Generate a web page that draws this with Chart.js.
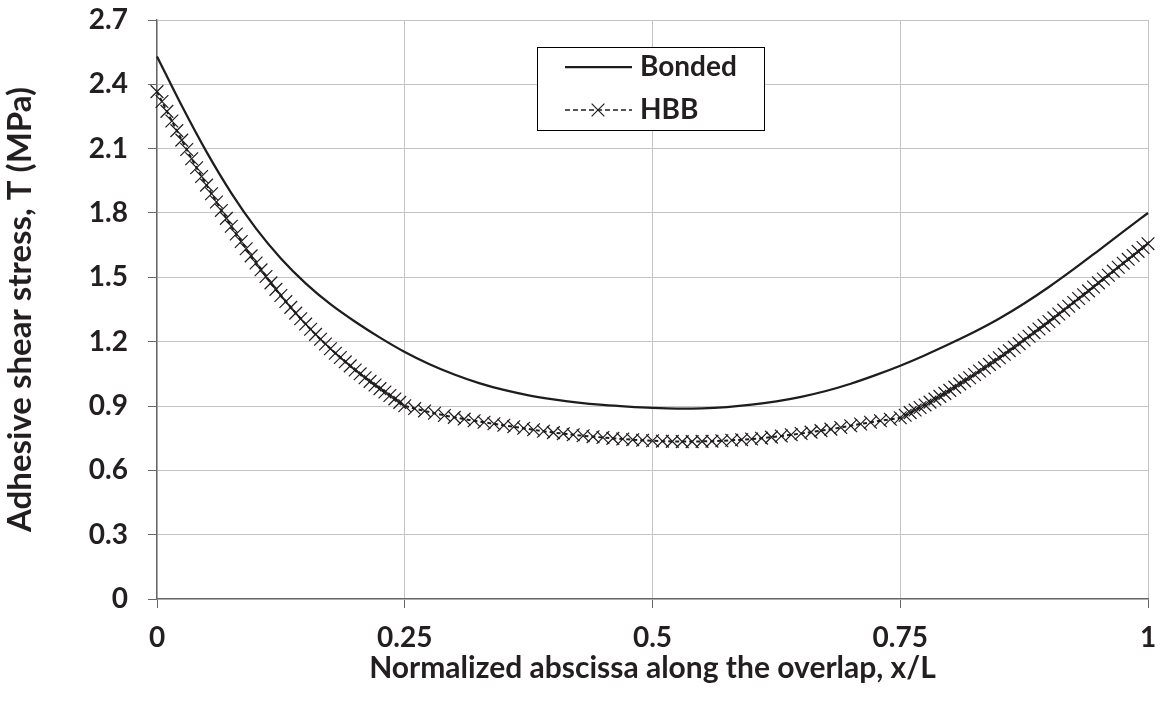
<!DOCTYPE html>
<html>
<head>
<meta charset="utf-8">
<script src="https://cdn.jsdelivr.net/npm/chart.js@4.4.1/dist/chart.umd.min.js"></script>
<style>
  html, body { margin: 0; padding: 0; background: #fff; }
  #wrap { width: 1163px; height: 702px; }
</style>
</head>
<body>
<div id="wrap"><canvas id="chart" width="1163" height="702"></canvas></div>
<script>
// Bonded joint: smooth curve, read every 0.025 of x/L
const bondedX = [0,0.025,0.05,0.075,0.1,0.125,0.15,0.175,0.2,0.225,0.25,0.275,0.3,0.325,0.35,0.375,0.4,0.425,0.45,0.475,
    0.5,0.525,0.55,0.575,0.6,0.625,0.65,0.675,0.7,0.725,0.75,0.775,0.8,0.825,0.85,0.875,0.9,0.925,0.95,0.975,1];
const bondedY = [2.530,2.300,2.085,1.893,1.727,1.588,1.472,1.375,1.293,1.219,1.152,1.095,1.047,1.007,0.975,0.950,0.931,0.916,0.905,0.897,
    0.891,0.888,0.889,0.895,0.906,0.922,0.943,0.970,1.004,1.044,1.088,1.137,1.190,1.246,1.308,1.378,1.455,1.538,1.625,1.713,1.800];

// HBB joint: marker points (finer mesh near the ends)
const hbbX = [
    0,0.005,0.01,0.015,0.02,0.025,0.03,0.035,0.04,0.045,0.05,0.055,0.06,0.065,0.07,0.075,0.08,0.085,0.09,0.095,
    0.1,0.105,0.11,0.115,0.12,0.125,0.13,0.135,0.14,0.145,0.15,0.155,0.16,0.165,0.17,0.175,0.18,0.185,0.19,0.195,
    0.2,0.205,0.21,0.215,0.22,0.225,0.23,0.235,0.24,0.245,0.25,
    0.26,0.27,0.28,0.29,0.3,0.31,0.32,0.33,0.34,0.35,0.36,0.37,0.38,0.39,0.4,0.41,0.42,0.43,0.44,0.45,0.46,0.47,0.48,0.49,
    0.5,0.51,0.52,0.53,0.54,0.55,0.56,0.57,0.58,0.59,0.6,0.61,0.62,0.63,0.64,0.65,0.66,0.67,0.68,0.69,0.7,0.71,0.72,0.73,0.74,
    0.75,0.755,0.76,0.765,0.77,0.775,0.78,0.785,0.79,0.795,0.8,0.805,0.81,0.815,0.82,0.825,0.83,0.835,0.84,0.845,
    0.85,0.855,0.86,0.865,0.87,0.875,0.88,0.885,0.89,0.895,0.9,0.905,0.91,0.915,0.92,0.925,0.93,0.935,0.94,0.945,
    0.95,0.955,0.96,0.965,0.97,0.975,0.98,0.985,0.99,0.995,1
];
const hbbY = [
    2.366,2.320,2.274,2.229,2.184,2.140,2.096,2.053,2.011,1.970,1.930,1.890,1.851,1.812,1.775,1.738,1.702,1.667,1.633,1.600,
    1.567,1.535,1.504,1.474,1.444,1.415,1.387,1.360,1.333,1.307,1.282,1.258,1.234,1.211,1.189,1.167,1.146,1.126,1.106,1.087,
    1.068,1.050,1.032,1.015,0.998,0.981,0.965,0.949,0.933,0.917,0.901,
    0.888,0.877,0.866,0.856,0.847,0.839,0.831,0.824,0.817,0.810,0.803,0.796,0.789,0.782,0.776,0.771,0.766,0.761,0.757,0.753,0.749,0.746,0.743,0.740,
    0.738,0.736,0.735,0.734,0.734,0.735,0.736,0.738,0.740,0.743,0.746,0.750,0.755,0.760,0.766,0.772,0.778,0.785,0.792,0.800,0.808,0.816,0.824,0.831,0.838,
    0.845,0.857,0.869,0.881,0.893,0.905,0.918,0.932,0.945,0.959,0.973,0.988,1.003,1.017,1.032,1.047,1.063,1.078,1.094,1.109,
    1.125,1.141,1.158,1.174,1.191,1.208,1.225,1.242,1.259,1.276,1.294,1.311,1.329,1.347,1.365,1.383,1.401,1.419,1.437,1.455,
    1.474,1.492,1.510,1.529,1.547,1.566,1.584,1.602,1.621,1.639,1.657
];

const seriesNames = ['Bonded', 'HBB'];
const xTitle = 'Normalized abscissa along the overlap, x/L';
const yTitle = 'Adhesive shear stress, T (MPa)';

const inkColor = '#1f1c1d';
const textColor = '#231f20';
const gridColor = '#c4c4c4';
const axisColor = '#666666';
const fontFamily = 'Lato, "Open Sans", sans-serif';
const tickFont = { family: fontFamily, size: 28, weight: 'bold' };
const xTitleFont = { family: fontFamily, size: 30, weight: 'bold' };
const yTitleFont = { family: fontFamily, size: 33, weight: 'bold' };

const toPoints = (xs, ys) => xs.map((x, i) => ({ x, y: ys[i] }));

// legend drawn inside the plot, boxed
const legendBox = {
    id: 'legendBox',
    afterDatasetsDraw(chart) {
        const { ctx, chartArea } = chart;
        const x0 = chartArea.left + 380, y0 = chartArea.top + 27, w = 227, h = 83;
        ctx.save();
        ctx.fillStyle = '#fff';
        ctx.fillRect(x0, y0, w, h);
        ctx.strokeStyle = '#000';
        ctx.lineWidth = 1;
        ctx.strokeRect(x0 + 0.5, y0 + 0.5, w, h);
        chart.data.datasets.forEach((ds, i) => {
            const y = y0 + 20 + i * 43;
            ctx.strokeStyle = ds.borderColor;
            ctx.lineWidth = i === 0 ? ds.borderWidth : 1.6;
            ctx.setLineDash(i === 0 ? [] : [5, 3]);
            ctx.beginPath();
            ctx.moveTo(x0 + 28, y);
            ctx.lineTo(x0 + 95, y);
            ctx.stroke();
            ctx.setLineDash([]);
            if (ds.pointRadius > 0) {
                const cx = x0 + 61, r = ds.pointRadius * Math.SQRT1_2;
                ctx.lineWidth = ds.pointBorderWidth;
                ctx.beginPath();
                ctx.moveTo(cx - r, y - r); ctx.lineTo(cx + r, y + r);
                ctx.moveTo(cx - r, y + r); ctx.lineTo(cx + r, y - r);
                ctx.stroke();
            }
            ctx.fillStyle = textColor;
            ctx.font = `bold 28px ${fontFamily}`;
            ctx.textBaseline = 'middle';
            ctx.textAlign = 'left';
            ctx.fillText(ds.label, x0 + 103, y);
        });
        ctx.restore();
    }
};

const ctx = document.getElementById('chart');
new Chart(ctx, {
    type: 'line',
    data: {
        datasets: [
            {
                label: seriesNames[0],
                data: toPoints(bondedX, bondedY),
                borderColor: inkColor,
                borderWidth: 2.25,
                pointRadius: 0,
                cubicInterpolationMode: 'monotone',
                fill: false,
                clip: false
            },
            {
                label: seriesNames[1],
                data: toPoints(hbbX, hbbY),
                borderColor: inkColor,
                borderWidth: 2,
                borderDash: [4, 3],
                pointStyle: 'crossRot',
                pointRadius: 9,
                pointBorderWidth: 1.2,
                pointBorderColor: inkColor,
                pointBackgroundColor: 'transparent',
                tension: 0,
                fill: false,
                clip: false
            }
        ]
    },
    options: {
        responsive: false,
        animation: false,
        events: [],
        layout: { padding: { left: 0, right: 15, top: 20, bottom: 0 } },
        plugins: {
            legend: { display: false },
            tooltip: { enabled: false }
        },
        scales: {
            x: {
                type: 'linear',
                min: 0,
                max: 1,
                ticks: {
                    stepSize: 0.25,
                    color: textColor,
                    font: tickFont,
                    padding: 13,
                    maxRotation: 0,
                    callback: (v) => String(v)
                },
                grid: { color: gridColor, lineWidth: 1, tickLength: 9, tickColor: axisColor },
                border: { color: axisColor, width: 1.3 },
                title: { display: true, text: xTitle, color: textColor, font: xTitleFont, padding: { top: 0, bottom: 16 } },
                afterFit: (scale) => {
                    scale.height = 103;
                    scale.paddingLeft = 0;
                    scale.paddingRight = 0;
                }
            },
            y: {
                min: 0,
                max: 2.7,
                ticks: {
                    stepSize: 0.3,
                    color: textColor,
                    font: tickFont,
                    padding: 20,
                    callback: (v) => v === 0 ? '0' : v.toFixed(1)
                },
                grid: { color: gridColor, lineWidth: 1, tickLength: 9, tickColor: axisColor },
                border: { color: axisColor, width: 1.3 },
                title: { display: true, text: yTitle, color: textColor, font: yTitleFont, padding: { top: 1, bottom: 0 } },
                afterFit: (scale) => {
                    scale.width = 157;
                    scale.paddingTop = 0;
                    scale.paddingBottom = 0;
                }
            }
        }
    },
    plugins: [legendBox]
});
</script>
</body>
</html>
